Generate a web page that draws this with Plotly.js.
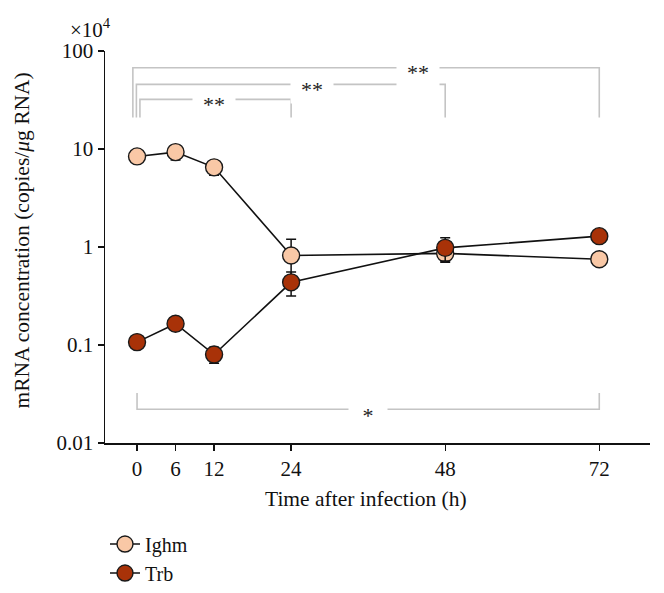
<!DOCTYPE html>
<html>
<head>
<meta charset="utf-8">
<script src="https://cdn.plot.ly/plotly-3.0.1.min.js"></script>
<style>html,body{margin:0;padding:0;background:#fff;}#chart{width:664px;height:593px;}</style>
</head>
<body>
<div id="chart"></div>
<script>
// ---- data (mRNA, x10^4 copies/µg RNA) ----
const timeHours   = [0, 6, 12, 24, 48, 72];
const ighmValues  = [8.4, 9.3, 6.5, 0.82, 0.86, 0.75];
const ighmErrors  = [0.4, 1.6, 1.1, 0.38, 0.16, 0.05];
const trbValues   = [0.107, 0.165, 0.080, 0.436, 0.98, 1.29];
const trbErrors   = [0.008, 0.01, 0.015, 0.12, 0.26, 0.1];
const xTickVals   = [0, 6, 12, 24, 48, 72];
const yTickVals   = [0.01, 0.1, 1, 10, 100];
const yTickText   = ['0.01', '0.1', '1', '10', '100'];
const seriesNames = ['Ighm', 'Trb'];
// significance comparisons
const topComparisons    = [{from: 0, to: 72, label: '**'}, {from: 0, to: 48, label: '**'}, {from: 0, to: 24, label: '**'}];
const bottomComparisons = [{from: 0, to: 72, label: '*'}];

const FONT = 'Liberation Serif, Times New Roman, serif';
const lineCol = '#111';

function series(name, y, err, fill) {
  return {
    type: 'scatter', mode: 'lines+markers', name: name,
    x: timeHours, y: y,
    line: {color: lineCol, width: 1.6},
    marker: {size: 17, color: fill, line: {color: '#1a1a1a', width: 1.4}},
    error_y: {type: 'data', array: err, visible: true, color: '#111', thickness: 1.5, width: 5}
  };
}

const traces = [];
const annotations = [];
const bracketCol = '#c4c4c4';

const topLevels = [67.4, 45.7, 32.1];
const topLeftOffset = [-0.65, -0.1, 0.45];
const topFoot = 21;
const topStarX = [43.8, 27.3, 12];
topComparisons.forEach((c, i) => {
  const x0 = c.from + topLeftOffset[i];
  traces.push({type: 'scatter', mode: 'lines', x: [x0, x0, c.to, c.to],
    y: [topFoot, topLevels[i], topLevels[i], topFoot],
    line: {color: bracketCol, width: 1.6}, hoverinfo: 'skip', showlegend: false});
  annotations.push({x: topStarX[i], y: Math.log10(topLevels[i]), xref: 'x', yref: 'y',
    text: c.label, showarrow: false, bgcolor: '#fff', width: 40, yshift: -5,
    font: {family: FONT, size: 22, color: '#222'}});
});
const botLevel = 0.0221, botFoot = 0.0324;
bottomComparisons.forEach(c => {
  traces.push({type: 'scatter', mode: 'lines', x: [c.from, c.from, c.to, c.to],
    y: [botFoot, botLevel, botLevel, botFoot],
    line: {color: bracketCol, width: 1.6}, hoverinfo: 'skip', showlegend: false});
  annotations.push({x: (c.from + c.to) / 2, y: Math.log10(botLevel), xref: 'x', yref: 'y',
    text: c.label, showarrow: false, bgcolor: '#fff', width: 36, yshift: -6,
    font: {family: FONT, size: 22, color: '#222'}});
});

traces.push(series(seriesNames[0], ighmValues, ighmErrors, '#f9c8a6'));
traces.push(series(seriesNames[1], trbValues, trbErrors, '#a83208'));

annotations.push({xref: 'paper', yref: 'paper', x: -0.027, y: 1.058, xanchor: 'center', yanchor: 'middle',
  text: '×10<sup>4</sup>', showarrow: false, font: {family: FONT, size: 21, color: '#111'}});
annotations.push({xref: 'paper', yref: 'paper', x: 0.478, y: -0.143, xanchor: 'center', yanchor: 'middle',
  text: 'Time after infection (h)', showarrow: false, font: {family: FONT, size: 21.5, color: '#111'}});
annotations.push({xref: 'paper', yref: 'paper', x: -0.152, y: 0.517, xanchor: 'center', yanchor: 'middle',
  textangle: -90, text: 'mRNA concentration (copies/<i>μ</i>g RNA)', showarrow: false,
  font: {family: FONT, size: 21.5, color: '#111'}});

const layout = {
  width: 664, height: 593,
  margin: {l: 105, r: 14, t: 51, b: 150, pad: 0, autoexpand: false},
  paper_bgcolor: '#fff', plot_bgcolor: '#fff',
  font: {family: FONT, size: 20, color: '#111'},
  showlegend: true,
  legend: {xref: 'paper', yref: 'paper', x: 0.0, y: -0.208, yanchor: 'top', xanchor: 'left',
    font: {family: FONT, size: 20, color: '#111'}, bgcolor: 'rgba(0,0,0,0)', tracegroupgap: 0},
  xaxis: {range: [-4.99, 79.9], showgrid: false, zeroline: false, showline: true, linecolor: '#111', linewidth: 1.5,
    ticks: 'outside', ticklen: 6, tickwidth: 1.3, tickcolor: '#111', tickmode: 'array', tickvals: xTickVals,
    tickfont: {family: FONT, size: 21, color: '#111'}, automargin: false},
  yaxis: {type: 'log', range: [-2, 2], showgrid: false, zeroline: false, showline: true, linecolor: '#111', linewidth: 1.5,
    ticks: 'outside', ticklen: 6, tickwidth: 1.3, tickcolor: '#111', tickmode: 'array', tickvals: yTickVals, ticktext: yTickText,
    tickfont: {family: FONT, size: 21, color: '#111'}, automargin: false},
  annotations: annotations
};

Plotly.newPlot('chart', traces, layout, {displayModeBar: false, staticPlot: true});
</script>
</body>
</html>
